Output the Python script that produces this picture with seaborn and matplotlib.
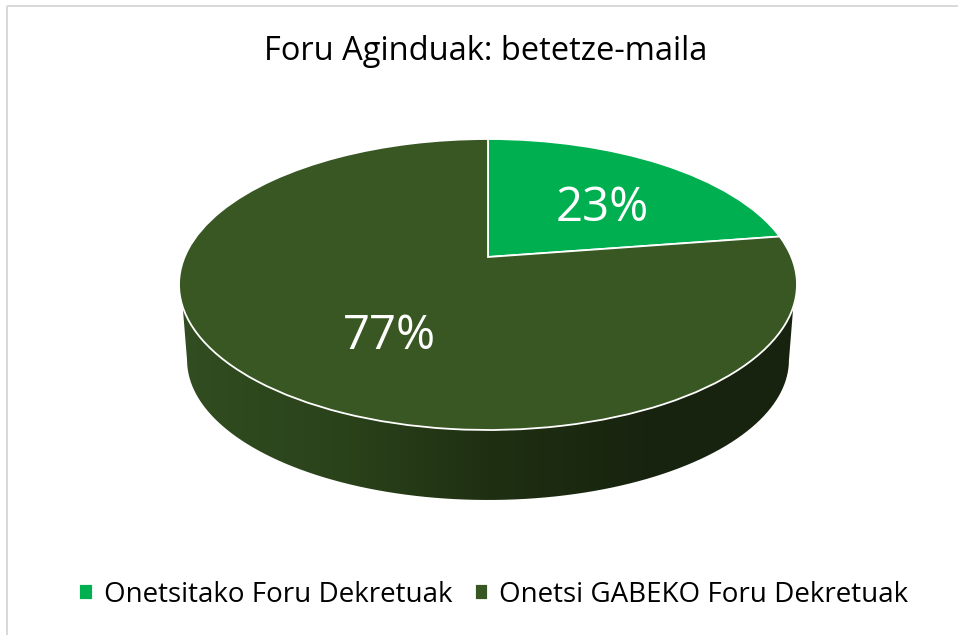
import numpy as np
import matplotlib
matplotlib.use("Agg")
import matplotlib.pyplot as plt
import seaborn as sns
from matplotlib.patches import PathPatch, Rectangle
from matplotlib.path import Path
from matplotlib.transforms import Transform

TITLE = "Foru Aginduak: betetze-maila"
LABELS = ["Onetsitako Foru Dekretuak", "Onetsi GABEKO Foru Dekretuak"]
VALUES = [22.6, 77.4]
COLORS = ["#00B050", "#385723"]
SIDE_COLORS = ["#314d21", "#2b431b", "#1f3012", "#18240f", "#18230f"]

# perspective of the pie top, in pixels of the picture
CX, CY = 488, 257
KX, KY, TILT = 303.4, 140.3, 0.189


class PieTilt(Transform):
    # unit disc of ax.pie -> tilted disc in picture pixels
    input_dims = 2
    output_dims = 2
    is_separable = False
    has_inverse = False

    def transform_non_affine(self, values):
        values = np.asarray(values, dtype=float)
        w = 1 + TILT * values[:, 1]
        return np.column_stack([CX + KX * values[:, 0] / w, CY - KY * values[:, 1] / w])


def rim(tilt, start, stop):
    t = np.radians(np.linspace(start, stop, 200))
    return tilt.transform(np.column_stack([np.cos(t), np.sin(t)]))


sns.set_theme(style="white")
plt.rcParams["font.family"] = ["Open Sans", "DejaVu Sans"]

fig = plt.figure(figsize=(9.58, 6.35), dpi=100, facecolor="white")
ax = fig.add_axes([0, 0, 1, 1])

# side wall of the cake: rim of the top down to a smaller rim below
tilt = PieTilt()
top_rim = rim(tilt, 199.5, 340.5)
low_rim = rim(tilt, 191, 349)
low_rim = np.column_stack([CX + (low_rim[:, 0] - CX) * 0.974, 360 + (low_rim[:, 1] - 284.5) * 0.962])
wall = np.vstack([top_rim, low_rim[::-1], top_rim[:1]])

cmap = sns.blend_palette(SIDE_COLORS, n_colors=256, as_cmap=True)
img = ax.imshow(np.linspace(0, 1, 256).reshape(1, -1), cmap=cmap, aspect="auto",
                extent=(180, 796, 505, 280), zorder=1)
clip = PathPatch(Path(wall), transform=ax.transData, fc="none", ec="none")
ax.add_patch(clip)
img.set_clip_path(clip)

# the top of the pie
wedges, texts, autotexts = ax.pie(VALUES, colors=COLORS, startangle=90, counterclock=False,
                                  autopct="%.0f%%", pctdistance=0.57,
                                  wedgeprops={"edgecolor": "white", "linewidth": 1.3, "zorder": 2},
                                  textprops={"color": "white", "fontsize": 34})
to_pixels = tilt + ax.transData
for w in wedges:
    w.set_transform(to_pixels)
    w.set_clip_on(False)
for txt, pos in zip(autotexts, [(0.405, 0.375), (-0.295, -0.51)]):
    txt.set_position(pos)
    txt.set_transform(to_pixels)
    txt.set_zorder(3)

ax.set_aspect("auto")
ax.set_xlim(0, 958)
ax.set_ylim(635, 0)
ax.axis("off")

# chart border, right and bottom sides fall outside the picture
ax.add_patch(Rectangle((7, 6), 1200, 900, fill=False, ec="#d9d9d9", lw=1.44, zorder=0))

ax.text(486, 51, TITLE, ha="center", va="center", fontsize=23.5, color="black")

fig.legend(wedges, LABELS, loc="center", bbox_to_anchor=(494 / 958, 1 - 595 / 635), ncol=2,
           frameon=False, fontsize=20, handlelength=0.47, handleheight=0.47,
           handletextpad=0.4, columnspacing=0.83, borderpad=0, labelcolor="black")

fig.savefig("out.png", dpi=100)
